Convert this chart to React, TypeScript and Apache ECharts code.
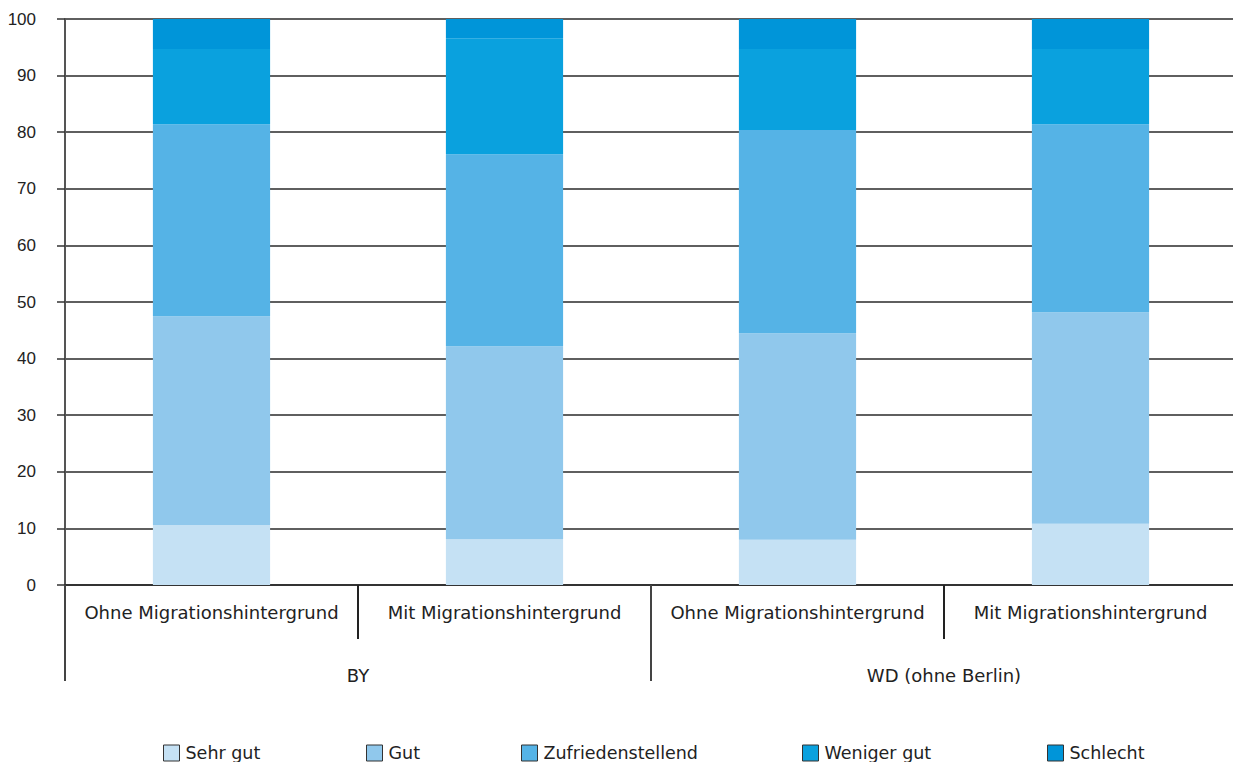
import React, { useEffect, useRef } from "react";
import * as echarts from "echarts";

const categories = [
  "Ohne Migrationshintergrund",
  "Mit Migrationshintergrund",
  "Ohne Migrationshintergrund",
  "Mit Migrationshintergrund",
];
const groups = ["BY", "WD (ohne Berlin)"];
const seriesNames = ["Sehr gut", "Gut", "Zufriedenstellend", "Weniger gut", "Schlecht"];
const sehrGut = [10.6, 8.1, 8.0, 10.8];
const gut = [36.9, 34.1, 36.5, 37.4];
const zufrieden = [33.9, 33.9, 35.9, 33.2];
const wenigerGut = [13.3, 20.5, 14.3, 13.3];
const schlecht = [5.3, 3.4, 5.3, 5.3];
const colors = ["#c5e1f4", "#90c8ec", "#55b3e6", "#0aa1de", "#0095d9"];
const legendLefts = [163, 366, 521, 802, 1047];

const FONT = "DejaVu Sans";

export default function App() {
  const ref = useRef<HTMLDivElement>(null);
  useEffect(() => {
    if (!ref.current) return;
    const chart = echarts.init(ref.current, undefined, { renderer: "svg" });
    const values = [sehrGut, gut, zufrieden, wenigerGut, schlecht];
    chart.setOption({
      animation: false,
      color: colors,
      grid: { left: 65, top: 19, width: 1172, height: 566, containLabel: false },
      legend: seriesNames.map((n, i) => ({
        data: [n],
        left: legendLefts[i],
        top: 744,
        padding: 0,
        itemWidth: 16,
        itemHeight: 16,
        itemGap: 0,
        icon: "rect",
        itemStyle: { borderColor: "#333", borderWidth: 1 },
        textStyle: { fontFamily: FONT, fontSize: 17.5, color: "#222", padding: [0, 0, 0, 1] },
        selectedMode: false,
      })),
      xAxis: [
        {
          type: "category",
          data: categories,
          position: "bottom",
          axisLine: { show: true, lineStyle: { color: "#333", width: 2 } },
          axisTick: { show: true, length: 54, interval: 0, lineStyle: { color: "#222", width: 2 } },
          axisLabel: {
            interval: 0,
            margin: 27,
            verticalAlign: "middle",
            fontFamily: FONT,
            fontSize: 18,
            color: "#222",
          },
        },
        {
          type: "category",
          data: groups,
          position: "bottom",
          offset: 0,
          axisLine: { show: false },
          axisTick: { show: true, length: 96, interval: 0, lineStyle: { color: "#444", width: 2 } },
          axisLabel: {
            interval: 0,
            margin: 90,
            verticalAlign: "middle",
            fontFamily: FONT,
            fontSize: 18,
            color: "#222",
          },
        },
      ],
      yAxis: {
        type: "value",
        min: 0,
        max: 100,
        interval: 10,
        axisLine: { show: true, lineStyle: { color: "#555", width: 2 } },
        axisTick: { show: true, length: 8, lineStyle: { color: "#333", width: 1.5 } },
        axisLabel: { margin: 29, fontFamily: "Liberation Sans", fontSize: 17, color: "#222" },
        splitLine: { show: true, lineStyle: { color: "#2a2a2a", width: 1.5 } },
      },
      series: seriesNames.map((n, i) => ({
        name: n,
        type: "bar",
        stack: "total",
        xAxisIndex: 0,
        barWidth: "40%",
        data: values[i],
        itemStyle: { color: colors[i] },
      })),
    });
    return () => chart.dispose();
  }, []);
  return (
    <div
      style={{
        position: "absolute",
        left: 0,
        top: 0,
        width: 1233,
        height: 762,
        overflow: "hidden",
        background: "#fff",
      }}
    >
      <div ref={ref} style={{ width: 1242, height: 762 }} />
    </div>
  );
}
